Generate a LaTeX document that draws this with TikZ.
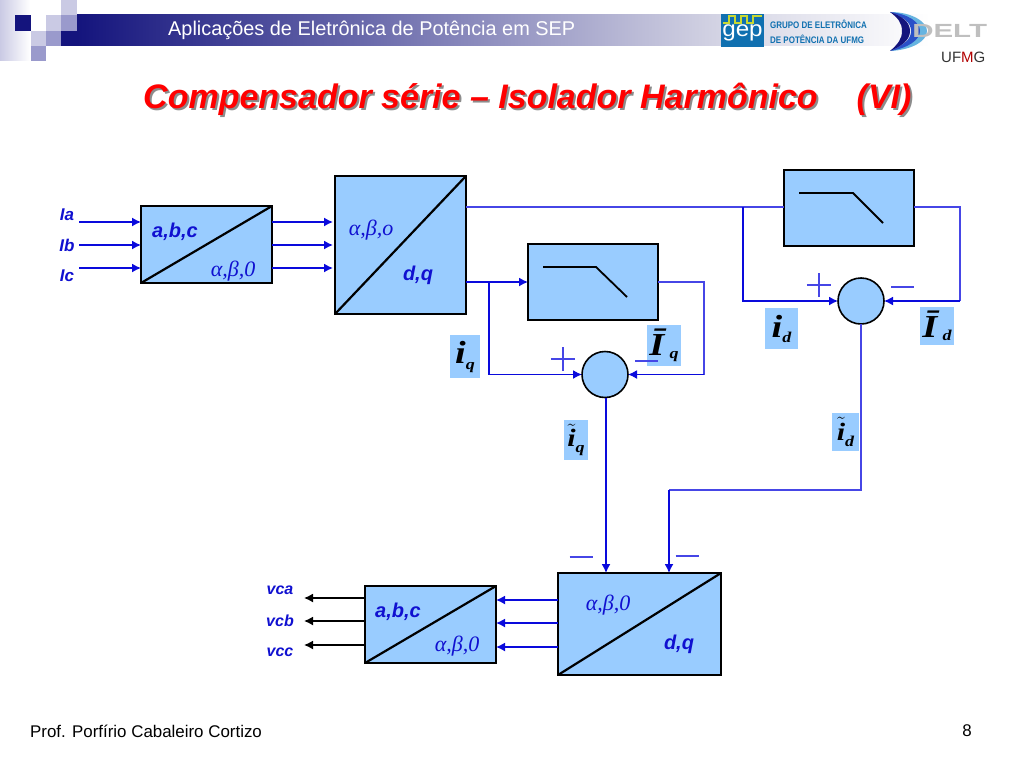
\documentclass[tikz,border=0pt]{standalone}
\usepackage{amsmath}
\usepackage{fontspec}
\setmainfont{Liberation Sans}
\newfontfamily\timesfont{Liberation Serif}
\newfontfamily\symfont[FakeStretch=1.2]{Liberation Serif}
\usetikzlibrary{arrows.meta,shapes.misc}
\definecolor{boxblue}{HTML}{99CCFF}
\definecolor{wireblue}{HTML}{0A0ADC}
\definecolor{thinblue}{HTML}{4646E6}
\definecolor{textblue}{HTML}{1010D0}
\definecolor{navy}{HTML}{14147D}
\definecolor{midsq}{HTML}{9A9ACC}
\definecolor{palesq}{HTML}{CACAE4}
\definecolor{barend}{HTML}{D4D4E4}
\definecolor{gepblue}{HTML}{1070B0}
\definecolor{gepwave}{HTML}{C8D832}
\definecolor{deltcyan}{HTML}{66B4E0}
\definecolor{deltblue}{HTML}{2A50C8}
\newcommand{\shadowtitle}[1]{\rlap{\raisebox{-2pt}{\hspace{2pt}\color{black!45}#1}}#1}
\newcommand{\symsub}[2]{\raisebox{-#2}{\fontsize{15}{15}\selectfont #1}}
\tikzset{
  blockbox/.style={draw=black, fill=boxblue, line width=2.2pt, inner sep=0, outer sep=0},
  sumcircle/.style={circle, draw=black, fill=boxblue, line width=1.6pt, minimum size=46pt, inner sep=0, outer sep=0},
  divline/.style={black, line width=2.2pt},
  lowpass/.style={black, line width=1.8pt},
  wire/.style={wireblue, line width=1.5pt},
  thinwire/.style={thinblue, line width=1.3pt},
  tipwire/.style={wire, -{Latex[length=9pt,width=9pt]}},
  blacktip/.style={black, line width=1.5pt, -{Latex[length=9pt,width=9pt]}},
  bluetext/.style={text=textblue, font=\fontsize{17}{17}\selectfont\bfseries\itshape, inner sep=0},
  vctext/.style={text=textblue, font=\fontsize{16}{16}\selectfont\bfseries\itshape, inner sep=0},
  blocktext/.style={text=textblue, font=\fontsize{20}{20}\selectfont\bfseries\itshape, inner sep=0},
  greektext/.style={text=textblue, font=\timesfont\fontsize{22}{22}\selectfont\itshape, inner sep=0},
  symlabel/.style={fill=boxblue, inner sep=0, font=\symfont\fontsize{32}{32}\selectfont\bfseries\itshape},
  tildelabel/.style={symlabel, font=\symfont\fontsize{25}{25}\selectfont\bfseries\itshape},
  plussign/.style={cross out, draw=thinblue, line width=1.1pt, rotate=45, minimum size=17pt, inner sep=0, outer sep=0},
  minussign/.style={strike out, draw=thinblue, line width=1.2pt, minimum width=23pt, minimum height=0pt, inner sep=0, outer sep=0},
}
\begin{document}
\begin{tikzpicture}[x=1pt,y=-1pt]
\useasboundingbox (0,0) rectangle (1024,768);
\fill[white] (0,0) rectangle (1024,768);
\shade[left color=palesq, right color=white] (0,0) rectangle (30,60);
\fill[navy] (15,15) rectangle (31,31);
\fill[palesq] (46,15) rectangle (61,31);
\fill[palesq] (61,0) rectangle (77,15);
\fill[midsq] (61,15) rectangle (77,31);
\fill[palesq] (31,31) rectangle (46,46);
\fill[midsq] (46,31) rectangle (61,46);
\fill[midsq] (31,46) rectangle (46,61);
\fill[navy] (61,31) rectangle (77,46);
\shade[left color=navy, right color=barend] (77,15) rectangle (720,46);
\shade[left color=barend, right color=white] (720,15) rectangle (930,46);
\node[anchor=west, text=white, font=\fontsize{19.9}{20}\selectfont, inner sep=0] (headtext) at (168,30.5) {Aplicações de Eletrônica de Potência em SEP};
\fill[gepblue] (721,14) rectangle (764,47);
\draw[gepwave, line width=1.3pt] (723,23) -- (729,23) -- (729,16) -- (735,16) -- (735,23) -- (741,23) -- (741,16) -- (747,16) -- (747,23) -- (753,23) -- (753,16) -- (762,16);
\node[text=white, font=\fontsize{22}{22}\selectfont, xscale=1.1, inner sep=0] (geptext) at (742.5,33) {gep};
\node[anchor=west, text=gepblue, font=\fontsize{9.5}{10}\selectfont\bfseries, xscale=.84, inner sep=0] (geptop) at (770,24) {GRUPO DE ELETRÔNICA};
\node[anchor=west, text=gepblue, font=\fontsize{9.5}{10}\selectfont\bfseries, xscale=.84, inner sep=0] (gepbot) at (770,39) {DE POTÊNCIA DA UFMG};
\fill[deltcyan] (890,12) .. controls (912,12) and (927,22) .. (927,31) .. controls (927,41) and (912,50) .. (890,51) .. controls (908,46) and (919,40) .. (919,31) .. controls (919,22) and (908,16) .. (890,12);
\fill[deltblue] (890,12) .. controls (908,14) and (920,22) .. (920,31) .. controls (920,40) and (908,48) .. (890,51) .. controls (903,45) and (911,40) .. (911,31) .. controls (911,22) and (903,17) .. (890,12);
\fill[navy] (890,12) .. controls (902,16) and (910,22) .. (910,31) .. controls (910,40) and (902,46) .. (890,51) .. controls (898,44) and (902,39) .. (902,31) .. controls (902,23) and (898,18) .. (890,12);
\node[anchor=west, text=black!25, font=\fontsize{19}{19}\selectfont\bfseries, xscale=1.55, inner sep=0] (delttext) at (912,31) {DELT};
\node[anchor=west, text=black!80, font=\fontsize{15}{15}\selectfont, inner sep=0] (ufmgtext) at (941,57) {UF\textcolor{red!70!black}{M}G};
\node[anchor=west, text=red, font=\fontsize{34}{34}\selectfont\bfseries\itshape, inner sep=0] (title) at (143,100) {\shadowtitle{Compensador série – Isolador Harmônico\hspace{39pt}(VI)}};
\node[anchor=west, font=\fontsize{16.9}{17}\selectfont, inner sep=0] (author) at (30,731) {Prof. Porfírio Cabaleiro Cortizo};
\node[font=\fontsize{16.9}{17}\selectfont, inner sep=0] (pagenum) at (967,731) {8};
\node[blockbox, minimum width=131pt, minimum height=77pt] (abcin) at (206.5,244.5) {};
\node[blockbox, minimum width=131pt, minimum height=138pt] (dqin) at (400.5,245) {};
\node[blockbox, minimum width=130pt, minimum height=76pt] (lpq) at (593,282) {};
\node[blockbox, minimum width=130pt, minimum height=76pt] (lpd) at (849,208) {};
\node[blockbox, minimum width=163pt, minimum height=102pt] (dqout) at (639.5,624) {};
\node[blockbox, minimum width=131pt, minimum height=77pt] (abcout) at (430.5,624.5) {};
\node[sumcircle] (sumq) at (605,374.5) {};
\node[sumcircle] (sumd) at (861,301) {};
\draw[divline] (abcin.south west) -- (abcin.north east);
\draw[divline] (dqin.south west) -- (dqin.north east);
\draw[divline] (dqout.south west) -- (dqout.north east);
\draw[divline] (abcout.south west) -- (abcout.north east);
\draw[lowpass] (543,267) -- (596,267) -- (627,297);
\draw[lowpass] (799,193) -- (853,193) -- (883,223);
\coordinate (ia) at (79,222);
\coordinate (ib) at (79,245);
\coordinate (ic) at (79,268);
\draw[tipwire] (ia) -- (abcin.west |- ia);
\draw[tipwire] (ib) -- (abcin.west |- ib);
\draw[tipwire] (ic) -- (abcin.west |- ic);
\draw[tipwire, shorten >=2pt] (abcin.east |- ia) -- (dqin.west |- ia);
\draw[tipwire, shorten >=2pt] (abcin.east |- ib) -- (dqin.west |- ib);
\draw[tipwire, shorten >=2pt] (abcin.east |- ic) -- (dqin.west |- ic);
\coordinate (qturn) at (489,282);
\coordinate (dturn) at (743,207);
\coordinate (qright) at (704,374.5);
\coordinate (dright) at (960,301);
\coordinate (qdown) at (606,398);
\draw[tipwire] (dqin.east |- qturn) -- (lpq.west);
\draw[tipwire] (qturn) |- (sumq.west);
\draw[thinwire] (lpq.east) -| (qright);
\draw[tipwire] (qright) -- (sumq.east);
\draw[thinwire] (dqin.east |- dturn) -- (lpd.west |- dturn);
\draw[tipwire] (dturn) |- (sumd.west);
\draw[thinwire] (lpd.east |- dturn) -| (dright);
\draw[tipwire] (dright) -- (sumd.east);
\draw[tipwire] (qdown) -- (qdown |- dqout.north);
\coordinate (dback) at (669,490);
\draw[thinwire] (sumd.south) |- (dback);
\draw[tipwire] (dback) -- (dback |- dqout.north);
\coordinate (oa) at (304,598);
\coordinate (ob) at (304,621);
\coordinate (oc) at (304,645);
\draw[blacktip] (abcout.west |- oa) -- (oa);
\draw[blacktip] (abcout.west |- ob) -- (ob);
\draw[blacktip] (abcout.west |- oc) -- (oc);
\coordinate (ra) at (496,600);
\coordinate (rb) at (496,623);
\coordinate (rc) at (496,647);
\draw[tipwire] (dqout.west |- ra) -- (ra);
\draw[tipwire] (dqout.west |- rb) -- (rb);
\draw[tipwire] (dqout.west |- rc) -- (rc);
\node[bluetext] (ialabel) at (67,215) {Ia};
\node[bluetext] (iblabel) at (67,245) {Ib};
\node[bluetext] (iclabel) at (67,276) {Ic};
\node[vctext] (vcalabel) at (280,590) {vca};
\node[vctext] (vcblabel) at (280,621) {vcb};
\node[vctext] (vcclabel) at (280,652) {vcc};
\node[blocktext] (abcintext) at (175,232) {a,b,c};
\node[greektext] (abintext) at (233,271) {α,β,0};
\node[greektext] (abotext) at (371,230) {α,β,o};
\node[blocktext] (dqintext) at (418,275) {d,q};
\node[blocktext] (abcouttext) at (398,612) {a,b,c};
\node[greektext] (abouttext) at (457,646) {α,β,0};
\node[greektext] (abdqtext) at (608,605) {α,β,0};
\node[blocktext] (dqouttext) at (679,644) {d,q};
\node[symlabel, minimum width=30pt, minimum height=43pt] (iqlabel) at (465,356.5) {i\symsub{q}{6pt}};
\node[symlabel, minimum width=34pt, minimum height=41pt] (barqlabel) at (664,345.5) {Ī\,\symsub{q}{3pt}};
\node[tildelabel, minimum width=24pt, minimum height=40pt] (tilqlabel) at (576,440) {$\tilde{\text{i}}$\symsub{q}{6pt}};
\node[symlabel, minimum width=33pt, minimum height=41pt] (idlabel) at (781.5,328.5) {i\symsub{d}{5pt}};
\node[symlabel, minimum width=34pt, minimum height=38pt] (bardlabel) at (937,326) {Ī\,\symsub{d}{3pt}};
\node[tildelabel, minimum width=27pt, minimum height=38pt] (tildlabel) at (845.5,432) {$\tilde{\text{i}}$\symsub{d}{6pt}};
\node[plussign] (plusq) at (563,359) {};
\node[minussign] (minusq) at (646.5,361) {};
\node[plussign] (plusd) at (819,285) {};
\node[minussign] (minusd) at (902.5,287) {};
\node[minussign] (minusa) at (581,557) {};
\node[minussign] (minusb) at (687,556) {};
\end{tikzpicture}
\end{document}
